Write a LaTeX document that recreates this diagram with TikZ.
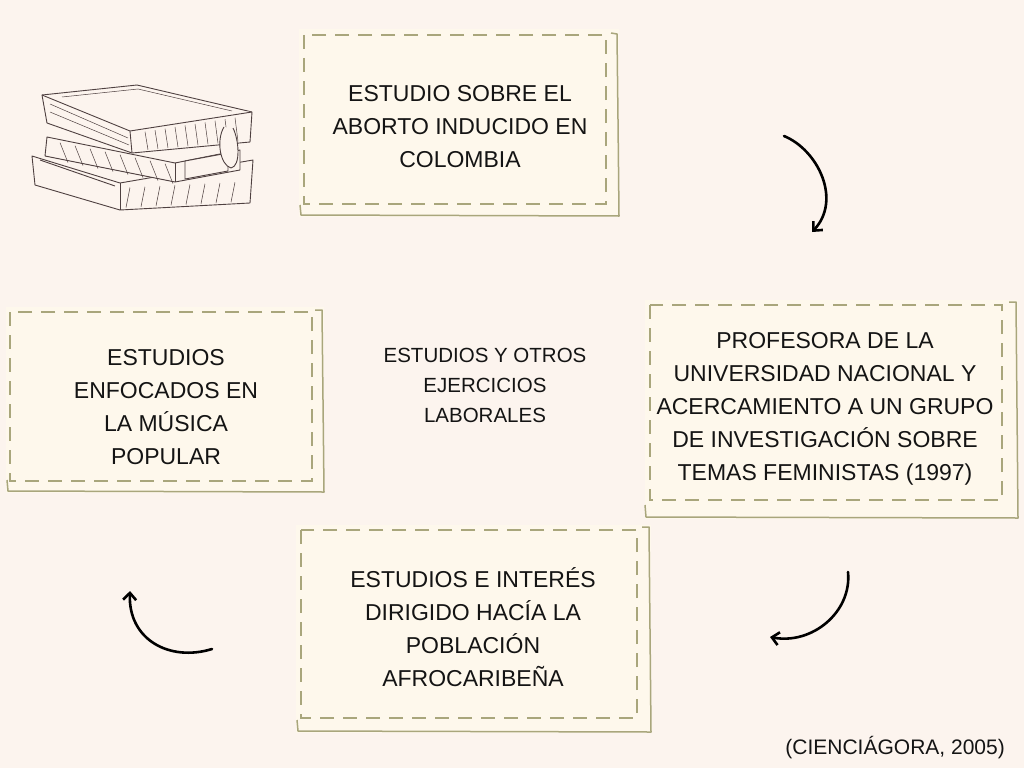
\documentclass[tikz,border=0pt]{standalone}
\usepackage{fontspec}
\setmainfont{Liberation Sans}
\usetikzlibrary{arrows.meta}
\definecolor{bg}{HTML}{FCF4EE}
\definecolor{cream}{HTML}{FEF8EC}
\definecolor{sage}{HTML}{A9A67C}
\definecolor{ink}{HTML}{141414}
\definecolor{bookink}{HTML}{4E4040}
\tikzset{
  boxfill/.style={fill=cream},
  boxline/.style={draw=sage, line width=1.5pt, line join=round},
  boxdash/.style={draw=sage, line width=2.4pt, dash pattern=on 14pt off 9pt},
  boxtext/.style={align=center, inner sep=0pt, text=ink, font=\fontsize{23}{33}\selectfont},
  turn/.style={line width=2.6pt, -{Straight Barb[length=7pt,width=13pt]}, line cap=round},
  book/.style={draw=bookink, line width=0.9pt, fill=bg, line join=round},
  hatch/.style={draw=bookink, line width=0.5pt},
}
\begin{document}
\begin{tikzpicture}[x=1pt,y=-1pt]
  \useasboundingbox[fill=bg] (0,0) rectangle (1024,768);
  % boxes
  \fill[boxfill] (299,29) rectangle (619,217);
  \draw[boxline] (611,33) -- (617,34) -- (618,120) -- (619,216) -- (301,215) -- (300,205);
  \draw[boxdash] (304,35) rectangle (606,204);
  \fill[boxfill] (645,300) rectangle (1018,519);
  \draw[boxline] (1009,302) -- (1016,302) -- (1017,410) -- (1018,518) -- (646,517) -- (645,505);
  \draw[boxdash] (650,305) rectangle (1002,500);
  \fill[boxfill] (6,307) rectangle (324,493);
  \draw[boxline] (315,310) -- (322,310) -- (323,400) -- (324,492) -- (8,491) -- (7,480);
  \draw[boxdash] (10,312) rectangle (312,481);
  \fill[boxfill] (296,525) rectangle (651,733);
  \draw[boxline] (642,527) -- (649,527) -- (650,630) -- (651,732) -- (298,731) -- (297,720);
  \draw[boxdash] (301,530) rectangle (637,718);
  % texts
  \node[boxtext] (aborto) at (460,127) {ESTUDIO SOBRE EL\\ABORTO INDUCIDO EN\\COLOMBIA};
  \node[boxtext] (profesora) at (825,409) {PROFESORA DE LA\\UNIVERSIDAD NACIONAL Y\\ACERCAMIENTO A UN GRUPO\\DE INVESTIGACIÓN SOBRE\\TEMAS FEMINISTAS (1997)};
  \node[boxtext] (afro) at (473,627) {ESTUDIOS E INTERÉS\\DIRIGIDO HACÍA LA\\POBLACIÓN\\AFROCARIBEÑA};
  \node[boxtext] (musica) at (166,407) {ESTUDIOS\\ENFOCADOS EN\\LA MÚSICA\\POPULAR};
  \node[boxtext, font=\fontsize{20.5}{30}\selectfont] (otros) at (485,385) {ESTUDIOS Y OTROS\\EJERCICIOS\\LABORALES};
  \node[text=ink, inner sep=0pt, anchor=base east, font=\fontsize{21}{24}\selectfont] (fuente) at (1005,754) {(CIENCIÁGORA, 2005)};
  % arrows
  \coordinate (a1) at (784,136);
  \coordinate (a2) at (812,232);
  \coordinate (b1) at (848,572);
  \coordinate (b2) at (770,637);
  \coordinate (c1) at (212,649);
  \coordinate (c2) at (130,591);
  \draw[turn] (a1) .. controls (818,150) and (842,200) .. (a2);
  \draw[turn] (b1) .. controls (852,612) and (812,645) .. (b2);
  \draw[turn] (c1) .. controls (170,662) and (128,640) .. (c2);
  % books
  \draw[book] (32,156) -- (120,183) -- (253,160) -- (250,203) -- (120,210) -- (35,185) -- cycle;
  \draw[book] (120,183) -- (120,210);
  \draw[book] (40,160) -- (115,186);
  \draw[book] (47,137) -- (175,163) -- (240,150) -- (240,170) -- (175,182) -- (45,156) -- cycle;
  \draw[book] (175,163) -- (175,182);
  \draw[book] (185,161) -- (228,153) -- (228,171) -- (185,179) -- cycle;
  \draw[book] (42,95) -- (137,85) -- (252,112) -- (250,142) -- (132,153) -- (47,123) -- cycle;
  \draw[book] (42,95) -- (130,131) -- (252,112);
  \draw[book] (130,131) -- (132,153);
  \draw[hatch] (62,97) -- (138,89) -- (232,111);
  \draw[hatch] (50,104) -- (128,138);
  \draw[hatch] (50,112) -- (129,145);
  \foreach \x in {145,155,...,235}
    \draw[hatch] (\x,{131-(\x-130)*0.156+3}) -- (\x+3,{153-(\x-132)*0.093-2});
  \foreach \x in {130,145,...,235}
    \draw[hatch] (\x,{188-(\x-120)*0.05}) -- (\x-4,{208-(\x-120)*0.05});
  \foreach \x in {60,75,...,165}
    \draw[hatch] (\x,{140+(\x-47)*0.2}) -- (\x+8,{160+(\x-47)*0.2});
  \draw[book] (224,127) .. controls (216,140) and (220,165) .. (231,168) .. controls (241,166) and (239,140) .. (233,128);
\end{tikzpicture}
\end{document}
